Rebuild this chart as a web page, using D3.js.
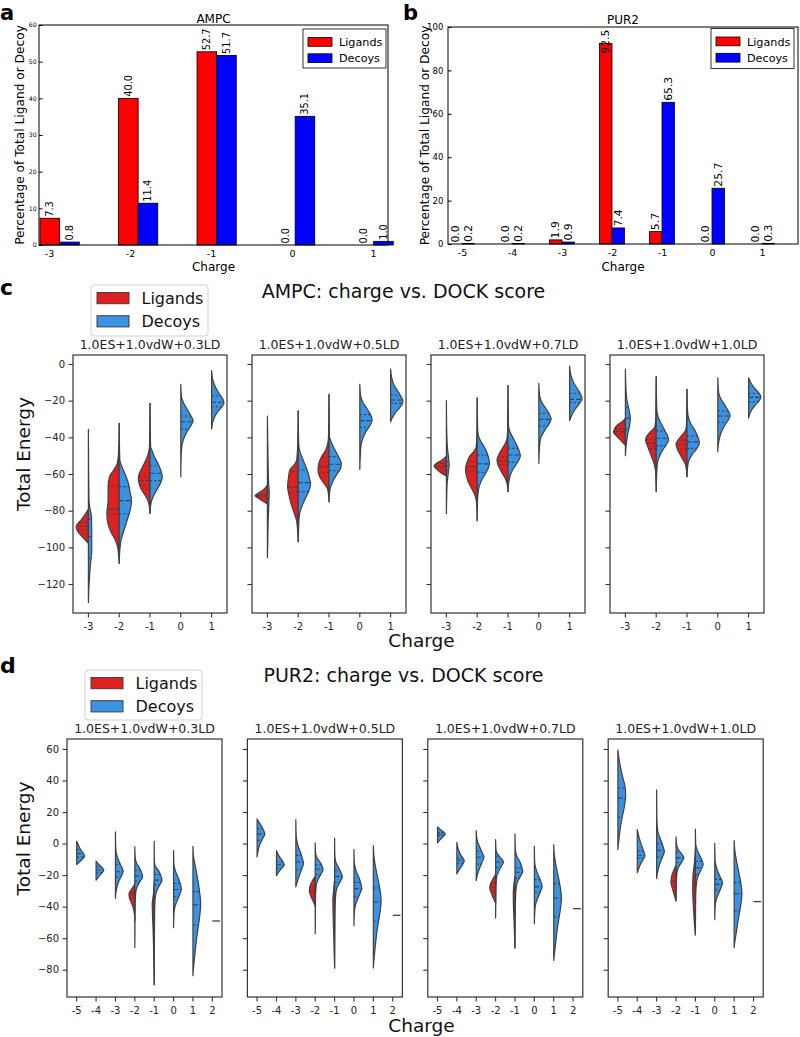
<!DOCTYPE html>
<html><head><meta charset="utf-8">
<script src="https://cdn.jsdelivr.net/npm/d3@7"></script>
<style>body{margin:0;background:#fff}svg{display:block}text{font-family:"DejaVu Sans",sans-serif}</style>
</head><body><svg id="chart" width="800" height="1037"></svg>
<script>
// ---------------- DATA ----------------
const seriesNames = ["Ligands", "Decoys"];
// panel a (AMPC bar chart)
const chargesA = [-3, -2, -1, 0, 1];
const ligandsA = [7.3, 40.0, 52.7, 0.0, 0.0];
const decoysA = [0.8, 11.4, 51.7, 35.1, 1.0];
const yTicksA = [0, 10, 20, 30, 40, 50, 60];
// panel b (PUR2 bar chart)
const chargesB = [-5, -4, -3, -2, -1, 0, 1];
const ligandsB = [0.0, 0.0, 1.9, 92.5, 5.7, 0.0, 0.0];
const decoysB = [0.2, 0.2, 0.9, 7.4, 65.3, 25.7, 0.3];
const yTicksB = [0, 20, 40, 60, 80, 100];
// panels c, d (split violins)
const scoringTerms = ["1.0ES+1.0vdW+0.3LD", "1.0ES+1.0vdW+0.5LD", "1.0ES+1.0vdW+0.7LD", "1.0ES+1.0vdW+1.0LD"];
const chargesC = [-3, -2, -1, 0, 1];
const chargesD = [-5, -4, -3, -2, -1, 0, 1, 2];
const yTicksC = [0, -20, -40, -60, -80, -100, -120];
const yTicksD = [60, 40, 20, 0, -20, -40, -60, -80];
// each half violin: c = charge, s = L (ligands) / D (decoys), q = [upper quartile, median, lower quartile],
// p = density profile [energy, relative half-width]
const ampc03 = [
  {c:-3, s:"L", q:[-86.5,-88.4,-90.5], p:[[-79.3,0],[-82.4,0.3],[-85.1,0.6],[-87.8,0.95],[-89.1,1.0],[-91.5,0.85],[-94.2,0.5],[-96.4,0.2],[-97.8,0]]},
  {c:-3, s:"D", q:[-84.7,-94.2,-106], p:[[-35.6,0],[-56,0.02],[-72.4,0.04],[-77.8,0.1],[-83.3,0.25],[-90.5,0.27],[-101.5,0.27],[-110.5,0.15],[-119.6,0.06],[-130,0]]},
  {c:-2, s:"L", q:[-66.5,-79.3,-81.8], p:[[-32.4,0],[-46.9,0.04],[-54.2,0.15],[-57.8,0.45],[-61.5,0.78],[-66.9,0.9],[-74.2,0.9],[-81.5,1.0],[-86.9,0.92],[-91.5,0.68],[-96,0.32],[-99.6,0.14],[-104.2,0.05],[-108.7,0]]},
  {c:-2, s:"D", q:[-66.9,-74.5,-81.8], p:[[-32.4,0],[-52.4,0.05],[-54.2,0.12],[-59.6,0.45],[-65.1,0.75],[-70.5,0.9],[-74.2,1.0],[-79.6,0.9],[-85.1,0.65],[-90.5,0.4],[-96,0.15],[-101.5,0.05],[-108.7,0]]},
  {c:-1, s:"L", q:[-61.5,-63.6,-66], p:[[-21.5,0],[-45.1,0.04],[-50.5,0.22],[-56,0.6],[-59.6,0.86],[-62.4,0.95],[-65.1,0.89],[-68.7,0.68],[-72.4,0.32],[-76,0.1],[-81.5,0]]},
  {c:-1, s:"D", q:[-55.5,-59.6,-63.6], p:[[-21.5,0],[-45.1,0.05],[-46.9,0.15],[-50.5,0.35],[-55.1,0.7],[-59.6,0.95],[-61.5,1.0],[-64.2,0.9],[-68.7,0.55],[-72.4,0.25],[-76,0.08],[-81.5,0]]},
  {c:0, s:"D", q:[-28.4,-31.5,-35.6], p:[[-11.1,0],[-17.8,0.05],[-21.5,0.25],[-25.1,0.55],[-28.7,0.85],[-30.9,1.0],[-33.3,0.85],[-36.9,0.5],[-41.5,0.2],[-45.1,0.08],[-50.5,0.03],[-61.5,0]]},
  {c:1, s:"D", q:[-17.3,-20.9,-23.3], p:[[-3.6,0],[-8.7,0.1],[-12.4,0.3],[-16,0.6],[-19.6,0.95],[-21.5,1.0],[-23.6,0.8],[-26.9,0.4],[-30.5,0.15],[-35.5,0]]}
];
const ampc05 = [
  {c:-3, s:"L", q:[-70.9,-71.8,-72.7], p:[[-66,0],[-68.7,0.35],[-70.9,0.85],[-71.8,1.0],[-73.3,0.7],[-75.1,0.3],[-76.4,0]]},
  {c:-3, s:"D", q:[-70,-73,-77], p:[[-28.4,0],[-46.9,0.04],[-65.1,0.1],[-70.5,0.15],[-76,0.12],[-86.9,0.06],[-97.8,0.03],[-105.5,0]]},
  {c:-2, s:"L", q:[-58.7,-67.3,-70], p:[[-25.6,0],[-43.3,0.04],[-52.4,0.12],[-54.2,0.24],[-57.8,0.68],[-61.5,0.78],[-66.9,0.86],[-70.5,0.78],[-76,0.59],[-81.5,0.32],[-85.1,0.14],[-90.5,0.05],[-96.9,0]]},
  {c:-2, s:"D", q:[-57.8,-64.7,-69.6], p:[[-25.6,0],[-43.3,0.04],[-46.9,0.1],[-52.4,0.4],[-57.8,0.72],[-63.3,0.95],[-65.1,1.0],[-68.7,0.9],[-72.4,0.65],[-76,0.4],[-79.6,0.2],[-83.3,0.08],[-90.5,0.03],[-96.9,0]]},
  {c:-1, s:"L", q:[-50.9,-56,-59.3], p:[[-16.5,0],[-39.6,0.04],[-43.3,0.1],[-46.9,0.27],[-50.5,0.6],[-55.1,0.86],[-57.8,0.89],[-61.5,0.76],[-65.1,0.4],[-67.8,0.14],[-70.5,0.05],[-75.1,0]]},
  {c:-1, s:"D", q:[-50.5,-54.7,-58.2], p:[[-16.5,0],[-39.6,0.04],[-41.5,0.12],[-45.1,0.35],[-49.6,0.7],[-54.2,1.0],[-56.9,0.95],[-60.5,0.6],[-64.2,0.3],[-67.8,0.1],[-75.1,0]]},
  {c:0, s:"D", q:[-27.6,-30.9,-34.5], p:[[-11.1,0],[-17.8,0.08],[-21.5,0.3],[-25.1,0.65],[-28.7,0.95],[-30.5,1.0],[-33.3,0.85],[-36.9,0.5],[-40.5,0.25],[-44.2,0.1],[-50.5,0.04],[-57.5,0]]},
  {c:1, s:"D", q:[-16.9,-19.6,-21.5], p:[[-2.7,0],[-7.8,0.1],[-12.4,0.35],[-16,0.7],[-19.6,0.98],[-20.9,1.0],[-23.3,0.8],[-26.9,0.35],[-29.6,0.12],[-31.5,0]]}
];
const ampc07 = [
  {c:-3, s:"L", q:[-54.2,-55.6,-56.9], p:[[-50.2,0],[-52.4,0.35],[-54.2,0.8],[-55.6,1.0],[-57.3,0.8],[-59.3,0.45],[-61.1,0]]},
  {c:-3, s:"D", q:[-53.3,-55.6,-58.2], p:[[-20,0],[-37.8,0.03],[-46.9,0.1],[-52.4,0.2],[-55.1,0.22],[-59.6,0.15],[-65.1,0.06],[-74.2,0.02],[-81.5,0]]},
  {c:-2, s:"L", q:[-53.3,-56,-58.2], p:[[-18.4,0],[-39.6,0.03],[-45.1,0.08],[-46.9,0.19],[-50.5,0.62],[-54.2,0.86],[-57.8,0.95],[-60.5,0.89],[-64.2,0.73],[-67.8,0.46],[-71.5,0.19],[-75.1,0.06],[-79.6,0.02],[-85.5,0]]},
  {c:-2, s:"D", q:[-49.6,-54.5,-59.1], p:[[-18.4,0],[-36,0.04],[-39.6,0.12],[-43.3,0.4],[-46.9,0.7],[-50.5,0.9],[-54.2,1.0],[-56.9,0.9],[-60.5,0.6],[-64.2,0.3],[-68.7,0.1],[-74.2,0.03],[-85.5,0]]},
  {c:-1, s:"L", q:[-50.9,-52.7,-55.1], p:[[-11.8,0],[-36,0.03],[-40.5,0.08],[-43.3,0.22],[-46.9,0.54],[-50.5,0.81],[-52.4,0.89],[-55.1,0.81],[-58.7,0.54],[-62.4,0.22],[-65.1,0.08],[-69.6,0]]},
  {c:-1, s:"D", q:[-46,-49.6,-53.5], p:[[-11.8,0],[-33,0.04],[-36,0.1],[-39.6,0.35],[-44.2,0.7],[-48.7,0.97],[-50.2,1.0],[-53.3,0.8],[-56.9,0.45],[-60.5,0.2],[-64.2,0.07],[-69.6,0]]},
  {c:0, s:"D", q:[-26.9,-30.2,-33.8], p:[[-10.5,0],[-17.8,0.08],[-21.5,0.3],[-25.1,0.65],[-28.7,0.95],[-30,1.0],[-32.4,0.85],[-36,0.5],[-39.6,0.2],[-43.3,0.08],[-48.7,0.03],[-54.2,0]]},
  {c:1, s:"D", q:[-16,-19.3,-21.1], p:[[-1.1,0],[-6,0.1],[-10.5,0.35],[-14.2,0.7],[-17.8,0.98],[-19.3,1.0],[-21.5,0.8],[-25.1,0.4],[-28.4,0.15],[-30.9,0]]}
];
const ampc10 = [
  {c:-3, s:"L", q:[-35.5,-36.9,-38.2], p:[[-29.6,0],[-31.5,0.27],[-33.3,0.65],[-36,0.92],[-36.9,0.97],[-38.7,0.8],[-40.5,0.54],[-42.4,0.27],[-44.2,0]]},
  {c:-3, s:"D", q:[-23.6,-29.6,-35.5], p:[[-2.9,0],[-14.2,0.05],[-19.6,0.12],[-25.1,0.3],[-29.6,0.4],[-33.3,0.35],[-37.8,0.2],[-43.3,0.08],[-50,0]]},
  {c:-2, s:"L", q:[-41.1,-43.3,-46.4], p:[[-6.9,0],[-28.7,0.03],[-34.2,0.1],[-36.9,0.46],[-39.6,0.78],[-41.5,0.86],[-44.2,0.73],[-47.8,0.54],[-51.5,0.32],[-55.1,0.14],[-58.7,0.05],[-64.2,0.02],[-69.6,0]]},
  {c:-2, s:"D", q:[-36.5,-40.5,-44.5], p:[[-6.9,0],[-25.1,0.05],[-28.7,0.15],[-32.4,0.4],[-36.9,0.75],[-40,0.97],[-41.5,1.0],[-44.2,0.8],[-47.8,0.45],[-51.5,0.2],[-55.1,0.08],[-69.6,0]]},
  {c:-1, s:"L", q:[-41.5,-43.8,-46.4], p:[[-13.8,0],[-32.4,0.04],[-36,0.1],[-38.7,0.4],[-41.5,0.73],[-43.6,0.89],[-46,0.81],[-49.6,0.54],[-52.4,0.32],[-55.1,0.11],[-61.5,0]]},
  {c:-1, s:"D", q:[-39.3,-42.5,-46], p:[[-13.8,0],[-25,0.04],[-28.7,0.1],[-32.4,0.3],[-36.9,0.7],[-41.5,0.97],[-43.3,1.0],[-46,0.8],[-49.6,0.4],[-53.3,0.12],[-56.9,0.04],[-61.5,0]]},
  {c:0, s:"D", q:[-25.6,-28.4,-31.8], p:[[-7.5,0],[-16,0.08],[-19.6,0.3],[-23.3,0.65],[-26.9,0.95],[-28.2,1.0],[-30.5,0.85],[-34.2,0.5],[-37.8,0.25],[-41.5,0.1],[-47.8,0]]},
  {c:1, s:"D", q:[-16,-18.2,-20.5], p:[[-7.5,0],[-10.5,0.2],[-13.3,0.5],[-16,0.85],[-17.8,1.0],[-19.6,0.9],[-22.4,0.55],[-25.1,0.25],[-27.5,0.08],[-29.6,0]]}
];
const pur03 = [
  {c:-5, s:"D", q:[-3.8,-6.3,-8.6], p:[[1.5,0],[-0.6,0.2],[-3.8,0.5],[-6.9,0.95],[-8.4,1.0],[-10.1,0.7],[-11.8,0.35],[-13.3,0]]},
  {c:-4, s:"D", q:[-14.9,-16.8,-18.5], p:[[-11.2,0],[-13.3,0.35],[-15.4,0.8],[-16.8,1.0],[-18.5,0.8],[-20.6,0.4],[-23.2,0]]},
  {c:-3, s:"D", q:[-13.3,-17.9,-21.3], p:[[7.4,0],[-2.7,0.04],[-6.9,0.15],[-11.2,0.45],[-15.4,0.85],[-17.5,1.0],[-19.6,0.85],[-23.8,0.45],[-28,0.18],[-31.2,0.06],[-34.7,0]]},
  {c:-2, s:"L", q:[-30.5,-32.2,-34.3], p:[[-25.9,0],[-29.1,0.45],[-31.8,0.75],[-34.3,0.7],[-37.5,0.45],[-40.6,0.22],[-44.8,0.05],[-49.1,0]]},
  {c:-2, s:"D", q:[-17.1,-20.6,-23.8], p:[[-1.9,0],[-9.1,0.06],[-12.2,0.2],[-15.4,0.6],[-19.6,0.95],[-21.3,1.0],[-23.8,0.7],[-26.9,0.35],[-30.1,0.15],[-36.4,0.06],[-46.9,0.03],[-57.5,0.015],[-65.9,0]]},
  {c:-1, s:"L", q:[-38.5,-44.8,-52.2], p:[[-23.8,0],[-32.2,0.1],[-38.5,0.25],[-44.8,0.22],[-53.3,0.15],[-61.7,0.1],[-74.3,0.05],[-89.5,0]]},
  {c:-1, s:"D", q:[-19.6,-23.2,-26.3], p:[[1.5,0],[-11.2,0.03],[-14.3,0.15],[-17.5,0.6],[-21.7,0.95],[-23.2,1.0],[-25.9,0.75],[-29.1,0.4],[-32.2,0.2],[-36.4,0.1],[-46.9,0.05],[-68,0.02],[-89.5,0]]},
  {c:0, s:"D", q:[-25.3,-29.1,-33.7], p:[[-4.4,0],[-13.3,0.05],[-17.5,0.25],[-21.7,0.6],[-26.9,0.95],[-29.1,1.0],[-32.2,0.8],[-36.4,0.45],[-39.6,0.2],[-42.7,0.08],[-46.9,0.03],[-53.3,0]]},
  {c:1, s:"D", q:[-30.5,-38.9,-51.6], p:[[-1.7,0],[-9.1,0.1],[-15.4,0.35],[-23.8,0.65],[-32.2,0.9],[-38.5,1.0],[-46.9,0.85],[-57.5,0.55],[-68,0.3],[-76.4,0.12],[-83.8,0]]}
];
const pur05 = [
  {c:-5, s:"D", q:[9.5,6,2], p:[[15.6,0],[13.1,0.3],[8.8,0.8],[6.1,1.0],[3.5,0.75],[-0.7,0.35],[-4.9,0.12],[-8.5,0]]},
  {c:-4, s:"D", q:[-11.7,-13.4,-15.5], p:[[-4.5,0],[-8.1,0.35],[-11.3,0.8],[-13.4,1.0],[-15.5,0.7],[-17.6,0.35],[-20.4,0]]},
  {c:-3, s:"D", q:[-7.5,-11.7,-16.6], p:[[15.2,0],[4.6,0.05],[-1.7,0.3],[-7,0.7],[-11.3,0.95],[-12.3,1.0],[-15.5,0.8],[-19.7,0.5],[-24,0.2],[-27.5,0]]},
  {c:-2, s:"L", q:[-27.5,-30.3,-33.5], p:[[-20.8,0],[-23.9,0.4],[-27.5,0.7],[-30.3,0.75],[-33.5,0.55],[-36.6,0.26],[-39.8,0]]},
  {c:-2, s:"D", q:[-13.4,-16.1,-19.7], p:[[0.4,0],[-6,0.05],[-9.1,0.25],[-12.3,0.7],[-15.5,0.97],[-16.6,1.0],[-19.7,0.7],[-22.9,0.35],[-26.1,0.15],[-31.4,0.06],[-41.9,0.03],[-57.2,0]]},
  {c:-1, s:"L", q:[-33.5,-39.8,-48.3], p:[[-22.9,0],[-29.2,0.12],[-35.6,0.22],[-46.2,0.18],[-56.7,0.12],[-67.3,0.06],[-78.9,0]]},
  {c:-1, s:"D", q:[-17,-20.8,-24.6], p:[[3.5,0],[-8.1,0.04],[-12.3,0.2],[-16.6,0.65],[-20.4,0.97],[-21.2,1.0],[-23.9,0.75],[-27.1,0.4],[-30.3,0.2],[-35.6,0.1],[-46.2,0.05],[-63.1,0.02],[-78.9,0]]},
  {c:0, s:"D", q:[-24.6,-28.6,-33.5], p:[[-3.9,0],[-12.3,0.05],[-17.6,0.3],[-22.9,0.75],[-27.1,0.97],[-28.6,1.0],[-31.4,0.8],[-35.6,0.45],[-38.8,0.2],[-43,0.07],[-52.1,0]]},
  {c:1, s:"D", q:[-28.2,-37.1,-49.3], p:[[-1.3,0],[-8.1,0.08],[-16.6,0.35],[-25,0.7],[-32.4,0.95],[-36.6,1.0],[-44,0.85],[-54.6,0.5],[-65.2,0.25],[-73.6,0.08],[-78.9,0]]}
];
const pur07 = [
  {c:-5, s:"D", q:[7.1,6.1,5], p:[[10.5,0],[8.8,0.4],[7.1,0.85],[6.1,1.0],[4.6,0.75],[2.5,0.35],[0.4,0]]},
  {c:-4, s:"D", q:[-9.1,-10.6,-12.3], p:[[0.8,0],[-3.9,0.2],[-8.1,0.6],[-10.8,0.95],[-13.4,0.75],[-15.5,0.45],[-17.6,0.2],[-19.3,0]]},
  {c:-3, s:"D", q:[-4.9,-8.7,-13], p:[[8.2,0],[2.5,0.1],[-1.7,0.4],[-6,0.8],[-8.5,1.0],[-11.3,0.8],[-15.5,0.45],[-19.7,0.15],[-23.5,0]]},
  {c:-2, s:"L", q:[-25,-27.5,-30.3], p:[[-19.7,0],[-22.9,0.4],[-26.1,0.7],[-28.2,0.75],[-31.4,0.55],[-34.5,0.3],[-37.7,0]]},
  {c:-2, s:"D", q:[-8.1,-11.7,-15.1], p:[[2.5,0],[-3.9,0.05],[-7,0.3],[-10.2,0.85],[-11.7,1.0],[-14.4,0.75],[-17.6,0.4],[-20.8,0.15],[-25,0.07],[-35.6,0.03],[-47.2,0]]},
  {c:-1, s:"L", q:[-29.2,-34.5,-44], p:[[-20.8,0],[-25,0.12],[-31.4,0.22],[-39.8,0.2],[-48.3,0.13],[-56.7,0.07],[-66.2,0]]},
  {c:-1, s:"D", q:[-15.5,-18.2,-21.8], p:[[6.1,0],[-3.9,0.05],[-8.1,0.25],[-12.3,0.7],[-16.6,0.97],[-17.6,1.0],[-20.8,0.7],[-23.9,0.35],[-27.1,0.18],[-33.5,0.08],[-46.2,0.03],[-66.2,0]]},
  {c:0, s:"D", q:[-22.9,-27.5,-30.7], p:[[-1.7,0],[-12.3,0.05],[-17.6,0.3],[-22.9,0.75],[-27.1,1.0],[-30.3,0.8],[-34.5,0.45],[-37.7,0.2],[-42,0.07],[-50.8,0]]},
  {c:1, s:"D", q:[-25.4,-34.5,-46.6], p:[[-0.7,0],[-8.1,0.1],[-16.6,0.4],[-25,0.75],[-31.4,0.95],[-34.5,1.0],[-41.9,0.85],[-52.5,0.5],[-63.1,0.25],[-69.4,0.1],[-74.1,0]]}
];
const pur10 = [
  {c:-5, s:"D", q:[35.2,28.8,16.6], p:[[59.4,0],[52,0.2],[43.6,0.55],[35.2,0.95],[29.9,1.0],[22.5,0.8],[14.1,0.45],[5.7,0.2],[-0.6,0.06],[-3.8,0]]},
  {c:-4, s:"D", q:[-4.8,-7.4,-9.5], p:[[8.8,0],[3.6,0.25],[-1.7,0.6],[-5.9,0.9],[-7.6,1.0],[-10.1,0.75],[-13.3,0.4],[-16.4,0.15],[-18.5,0]]},
  {c:-3, s:"D", q:[-0.2,-4.2,-8.6], p:[[34.1,0],[16.2,0.03],[7.8,0.15],[1.5,0.6],[-3.8,0.95],[-4.8,1.0],[-8,0.8],[-12.2,0.45],[-16.4,0.2],[-19.6,0.07],[-22.1,0]]},
  {c:-2, s:"L", q:[-20.6,-23.8,-26.9], p:[[-13.7,0],[-17.5,0.35],[-21.7,0.6],[-24.8,0.65],[-28,0.5],[-32.2,0.25],[-36.4,0]]},
  {c:-2, s:"D", q:[-5.3,-9.1,-12.2], p:[[4.2,0],[-0.6,0.08],[-3.8,0.3],[-6.9,0.8],[-9.1,1.0],[-11.6,0.75],[-14.3,0.4],[-17.5,0.15],[-23.8,0.05],[-36.4,0]]},
  {c:-1, s:"L", q:[-19.6,-25.9,-33.3], p:[[-3.8,0],[-11.2,0.1],[-19.6,0.3],[-28,0.35],[-36.4,0.3],[-44.8,0.2],[-52.2,0.1],[-57.9,0]]},
  {c:-1, s:"D", q:[-11.2,-15.4,-19.6], p:[[9.1,0],[-0.6,0.05],[-4.8,0.3],[-10.1,0.8],[-13.3,1.0],[-16.4,0.75],[-20.6,0.35],[-24.8,0.15],[-32.2,0.05],[-44.8,0.02],[-57.9,0]]},
  {c:0, s:"D", q:[-22.7,-25.9,-29.5], p:[[0.2,0],[-11.2,0.05],[-16.4,0.3],[-21.7,0.75],[-24.8,1.0],[-28,0.8],[-32.2,0.45],[-35.4,0.2],[-38.5,0.08],[-48.2,0]]},
  {c:1, s:"D", q:[-24.8,-31.8,-42.7], p:[[1.9,0],[-4.8,0.1],[-13.3,0.4],[-21.7,0.75],[-28,0.95],[-32.2,1.0],[-40.6,0.8],[-49.1,0.5],[-57.5,0.25],[-62.7,0.08],[-65.9,0]]}
];
// single decoy observation at charge +2 in each PUR2 subplot
const pur2Single = [-49.1, -45.5, -41.3, -36.8];

// ---------------- DRAWING ----------------
const svg = d3.select("#chart");
svg.append("rect").attr("width", 800).attr("height", 1037).attr("fill", "#fff");

const FONT = "DejaVu Sans";
function txt(g, x, y, s, size, opts = {}) {
  const t = g.append("text").attr("x", x).attr("y", y).text(s)
    .attr("font-size", size).attr("font-family", opts.family || FONT)
    .attr("fill", opts.fill || "#000").attr("text-anchor", opts.anchor || "start");
  if (opts.weight) t.attr("font-weight", opts.weight);
  if (opts.rotate) t.attr("transform", `rotate(${opts.rotate},${x},${y})`);
  if (opts.baseline) t.attr("dominant-baseline", opts.baseline);
  return t;
}

// ---- bar panels a & b ----
function barPanel(o) {
  const g = svg.append("g");
  const x = d3.scaleLinear().domain(o.xDomain).range([o.left, o.right]);
  const y = d3.scaleLinear().domain([0, o.yMax]).range([o.bottom, o.top]);
  const bw = x(0.25) - x(0);
  const series = [{vals: o.lig, off: 0, fill: "#ff0000"}, {vals: o.dec, off: 0.25, fill: "#0000ff"}];
  series.forEach(s => {
    g.selectAll(null).data(s.vals).join("rect")
      .attr("x", (d, i) => x(i + s.off)).attr("y", d => y(d))
      .attr("width", bw).attr("height", d => y(0) - y(d))
      .attr("fill", s.fill).attr("stroke", "#000").attr("stroke-width", d => d > 0 ? 0.8 : 0);
    g.selectAll(null).data(s.vals).join("text")
      .attr("transform", (d, i) => `translate(${x(i + s.off) + bw / 2},${y(Math.min(d, o.labelCap)) - 1.5}) rotate(-90)`)
      .attr("dominant-baseline", "central").attr("font-size", o.valSize).attr("font-family", FONT)
      .text(d => d.toFixed(1));
  });
  // frame
  g.append("rect").attr("x", o.left).attr("y", o.top).attr("width", o.right - o.left).attr("height", o.bottom - o.top)
    .attr("fill", "none").attr("stroke", "#000").attr("stroke-width", 1);
  // y axis
  const ya = g.append("g").attr("transform", `translate(${o.left},0)`)
    .call(d3.axisLeft(y).tickValues(o.yTicks).tickSize(-3.5).tickPadding(o.yPad).tickFormat(d3.format("d")));
  ya.select(".domain").remove();
  ya.selectAll("text").attr("font-size", o.yTickSize).attr("font-family", FONT).attr("fill", "#000");
  ya.selectAll("line").attr("stroke", "#000");
  // x axis labels
  const xa = g.append("g").attr("transform", `translate(0,${o.bottom})`)
    .call(d3.axisBottom(o.tickScale).tickSize(0).tickPadding(5).tickFormat(d => String(d)));
  xa.select(".domain").remove();
  xa.selectAll("text").attr("font-size", 9.5).attr("font-family", FONT).attr("fill", "#000");
  // titles
  txt(g, (o.left + o.right) / 2, o.titleY, o.title, 12, {anchor: "middle"});
  txt(g, (o.left + o.right) / 2, 270.5, "Charge", 12, {anchor: "middle"});
  txt(g, o.yLabelX, (o.top + o.bottom) / 2, "Percentage of Total Ligand or Decoy", 12.2, {anchor: "middle", rotate: -90});
  // legend
  const L = o.legend;
  g.append("rect").attr("x", L.x).attr("y", L.y).attr("width", L.w).attr("height", L.h)
    .attr("fill", "#fff").attr("stroke", "#000").attr("stroke-width", 0.8);
  [["#ff0000", seriesNames[0]], ["#0000ff", seriesNames[1]]].forEach((e, i) => {
    g.append("rect").attr("x", L.x + 5).attr("y", L.y + 8.5 + i * 16.3).attr("width", 24).attr("height", 8.8)
      .attr("fill", e[0]).attr("stroke", "#000").attr("stroke-width", 0.8);
    txt(g, L.x + 36, L.y + 17 + i * 16.3, e[1], 11.2);
  });
}

barPanel({
  left: 39, right: 388, top: 25, bottom: 245, xDomain: [-0.013, 4.433], yMax: 60,
  lig: ligandsA, dec: decoysA, yTicks: yTicksA, yTickSize: 6.2, yPad: 2.3, valSize: 9.8, labelCap: 1e9,
  tickScale: d3.scalePoint().domain(chargesA).range([49, 373]),
  title: "AMPC", titleY: 23.3, yLabelX: 23.5,
  legend: {x: 303, y: 29, w: 83, h: 39}
});
barPanel({
  left: 448, right: 798, top: 27, bottom: 244, xDomain: [-0.03, 6.97], yMax: 100,
  lig: ligandsB, dec: decoysB, yTicks: yTicksB, yTickSize: 8.5, yPad: 4.7, valSize: 10.8, labelCap: 87,
  tickScale: d3.scalePoint().domain(chargesB).range([462, 762]),
  title: "PUR2", titleY: 24, yLabelX: 428.5,
  legend: {x: 711, y: 28.5, w: 83, h: 40}
});
txt(svg, 0, 19.5, "a", 21, {family: "Liberation Sans", weight: "bold"});
txt(svg, 403, 19.5, "b", 21, {family: "Liberation Sans", weight: "bold"});

// ---- violin panels c & d ----
const RED = "#df2020", BLUE = "#3a92e2", EDGE = "#414141";
function widthAt(p, v) {
  if (v >= p[0][0]) return p[0][1];
  for (let i = 0; i < p.length - 1; i++) {
    const a = p[i], b = p[i + 1];
    if (v <= a[0] && v >= b[0]) { const t = (a[0] - v) / (a[0] - b[0]); return a[1] + t * (b[1] - a[1]); }
  }
  return 0;
}
function violinPanel(o) {
  const g = svg.append("g");
  const y = d3.scaleLinear().domain(o.yDomain).range([o.top, o.bottom]);
  o.subs.forEach((halves, k) => {
    const left = o.left0 + k * o.step, right = left + o.width;
    const x = d3.scaleBand().domain(o.charges).range([left, right]);
    const maxW = x.bandwidth() * 0.4;
    const sg = g.append("g");
    const area = d3.area().curve(d3.curveMonotoneY).y(d => y(d[0]));
    sg.selectAll("path.half").data(halves).join("path").attr("class", "half")
      .attr("d", h => {
        const c = x(h.c) + x.bandwidth() / 2, sgn = h.s === "L" ? -1 : 1;
        return area.x0(c).x1(d => c + sgn * d[1] * maxW)(h.p);
      })
      .attr("fill", h => h.s === "L" ? RED : BLUE).attr("stroke", EDGE).attr("stroke-width", 1.2)
      .attr("stroke-linejoin", "round");
    halves.forEach(h => {
      const c = x(h.c) + x.bandwidth() / 2, sgn = h.s === "L" ? -1 : 1;
      h.q.forEach((qv, qi) => {
        const w = widthAt(h.p, qv) * maxW;
        sg.append("line").attr("x1", c).attr("x2", c + sgn * w).attr("y1", y(qv)).attr("y2", y(qv))
          .attr("stroke", EDGE).attr("stroke-width", 1.1)
          .attr("stroke-dasharray", qi === 1 ? "4.5,2" : "2.2,2");
      });
    });
    if (o.single) {
      const c = x(2) + x.bandwidth() / 2;
      sg.append("line").attr("x1", c).attr("x2", c + maxW).attr("y1", y(o.single[k])).attr("y2", y(o.single[k]))
        .attr("stroke", EDGE).attr("stroke-width", 1.3);
    }
    // frame
    sg.append("rect").attr("x", left).attr("y", o.top).attr("width", o.width).attr("height", o.bottom - o.top)
      .attr("fill", "none").attr("stroke", "#333").attr("stroke-width", 1.2);
    // axes
    const ya = sg.append("g").attr("transform", `translate(${left},0)`)
      .call(d3.axisLeft(y).tickValues(o.yTicks).tickSize(4.5).tickPadding(3.5)
        .tickFormat(k === 0 ? d3.format("d") : () => ""));
    ya.select(".domain").remove();
    ya.selectAll("line").attr("stroke", "#333").attr("stroke-width", 1.1);
    ya.selectAll("text").attr("font-size", 10).attr("font-family", FONT).attr("fill", "#222");
    const xa = sg.append("g").attr("transform", `translate(0,${o.bottom})`)
      .call(d3.axisBottom(x).tickSize(4.5).tickPadding(5).tickFormat(d => String(d)));
    xa.select(".domain").remove();
    xa.selectAll("line").attr("stroke", "#333").attr("stroke-width", 1.1);
    xa.selectAll("text").attr("font-size", 10).attr("font-family", FONT).attr("fill", "#222");
    txt(sg, (left + right) / 2, o.subTitleY, scoringTerms[k], 12.5, {anchor: "middle", fill: "#222"});
  });
  // suptitle, labels
  txt(g, 403.5, o.supY, o.supTitle, 19, {anchor: "middle", fill: "#111"});
  txt(g, 30, o.yLabelY, "Total Energy", 18.5, {anchor: "middle", rotate: -90, fill: "#111"});
  txt(g, 421.5, o.xLabelY, "Charge", 18.5, {anchor: "middle", fill: "#111"});
  // legend
  const L = o.legend;
  g.append("rect").attr("x", L.x).attr("y", L.y).attr("width", L.w).attr("height", L.h).attr("rx", 3)
    .attr("fill", "#fff").attr("stroke", "#d0d0d0").attr("stroke-width", 1);
  [[RED, seriesNames[0]], [BLUE, seriesNames[1]]].forEach((e, i) => {
    g.append("rect").attr("x", L.x + 6).attr("y", L.y + 7.5 + i * 23.2).attr("width", 32).attr("height", 11.2)
      .attr("fill", e[0]).attr("stroke", EDGE).attr("stroke-width", 1);
    txt(g, L.x + 50.5, L.y + 19 + i * 23.2, e[1], 16, {fill: "#111"});
  });
}

violinPanel({
  subs: [ampc03, ampc05, ampc07, ampc10], charges: chargesC, yTicks: yTicksC,
  yDomain: [4.9, -135.8], top: 355, bottom: 613, left0: 73, step: 179, width: 154,
  subTitleY: 349.3, supY: 298.3, supTitle: "AMPC: charge vs. DOCK score", yLabelY: 454, xLabelY: 647,
  legend: {x: 91, y: 285, w: 117, h: 51}
});
violinPanel({
  subs: [pur03, pur05, pur07, pur10], charges: chargesD, yTicks: yTicksD, single: pur2Single,
  yDomain: [66.3, -97.3], top: 739, bottom: 997, left0: 67, step: 180.4, width: 155,
  subTitleY: 732.7, supY: 682.3, supTitle: "PUR2: charge vs. DOCK score", yLabelY: 838.5, xLabelY: 1032,
  legend: {x: 85, y: 670, w: 117, h: 50}
});
txt(svg, 0, 295, "c", 22, {family: "Liberation Sans", weight: "bold"});
txt(svg, 0, 673, "d", 22, {family: "Liberation Sans", weight: "bold"});
</script></body></html>
